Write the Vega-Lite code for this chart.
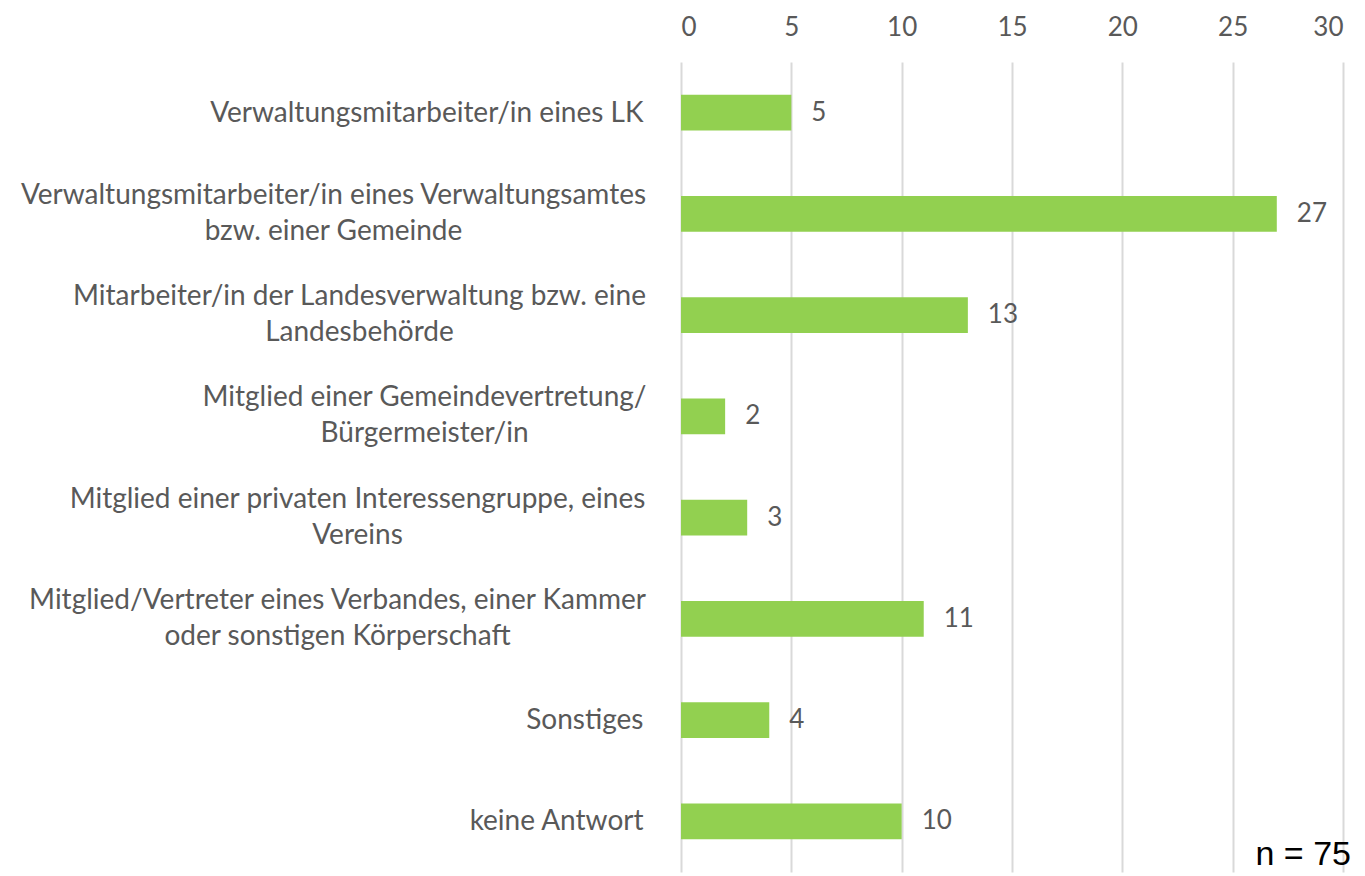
{
  "$schema": "https://vega.github.io/schema/vega-lite/v6.json",
  "autosize": {"type": "none"},
  "padding": {"left": 681, "top": 62, "right": 22, "bottom": 4},
  "width": 662,
  "height": 810,
  "background": "white",
  "config": {"view": {"stroke": null}, "font": "Lato"},
  "title": {
    "text": "n = 75",
    "orient": "bottom",
    "anchor": "end",
    "offset": -34,
    "dx": 8,
    "font": "Liberation Sans",
    "fontSize": 34,
    "fontWeight": "normal",
    "color": "#000000"
  },
  "data": {
    "values": [
      {"kategorie": "Verwaltungsmitarbeiter/in eines LK", "anzahl": 5},
      {"kategorie": "Verwaltungsmitarbeiter/in eines Verwaltungsamtes|bzw. einer Gemeinde", "anzahl": 27},
      {"kategorie": "Mitarbeiter/in der Landesverwaltung bzw. eine|Landesbehörde", "anzahl": 13},
      {"kategorie": "Mitglied einer Gemeindevertretung/|Bürgermeister/in", "anzahl": 2},
      {"kategorie": "Mitglied einer privaten Interessengruppe, eines|Vereins", "anzahl": 3},
      {"kategorie": "Mitglied/Vertreter eines Verbandes, einer Kammer|oder sonstigen Körperschaft", "anzahl": 11},
      {"kategorie": "Sonstiges", "anzahl": 4},
      {"kategorie": "keine Antwort", "anzahl": 10}
    ]
  },
  "encoding": {
    "y": {
      "field": "kategorie",
      "type": "nominal",
      "sort": null,
      "scale": {"paddingInner": 0.645, "paddingOuter": 0.3225},
      "axis": {
        "title": null,
        "domain": false,
        "ticks": false,
        "labelExpr": "split(datum.label, '|')",
        "labelFontSize": 28,
        "labelColor": "#595959",
        "labelLimit": 700,
        "labelLineHeight": 36,
        "labelAlign": {"condition": {"test": "indexof(datum.value, '|') >= 0", "value": "center"}, "value": "right"},
        "labelPadding": {
          "condition": [
            {"test": "indexof(datum.value, 'Verwaltungsamtes') >= 0", "value": 348},
            {"test": "indexof(datum.value, 'Landesverwaltung') >= 0", "value": 322},
            {"test": "indexof(datum.value, 'Gemeindevertretung') >= 0", "value": 257},
            {"test": "indexof(datum.value, 'Interessengruppe') >= 0", "value": 324},
            {"test": "indexof(datum.value, 'Verbandes') >= 0", "value": 344}
          ],
          "value": 38
        },
        "labelOffset": {"condition": {"test": "indexof(datum.value, '|') >= 0", "value": -18}, "value": 1}
      }
    },
    "x": {
      "field": "anzahl",
      "type": "quantitative",
      "scale": {"domain": [0, 30]},
      "axis": {
        "orient": "top",
        "title": null,
        "domain": false,
        "ticks": false,
        "values": [0, 5, 10, 15, 20, 25, 30],
        "labelFontSize": 26,
        "labelColor": "#595959",
        "labelPadding": 22,
        "gridColor": "#d9d9d9",
        "gridWidth": 2
      }
    }
  },
  "layer": [
    {"mark": {"type": "bar", "color": "#92D050"}},
    {
      "mark": {"type": "text", "align": "left", "baseline": "middle", "dx": 20, "fontSize": 26, "color": "#595959"},
      "encoding": {"text": {"field": "anzahl", "type": "quantitative"}}
    }
  ]
}
